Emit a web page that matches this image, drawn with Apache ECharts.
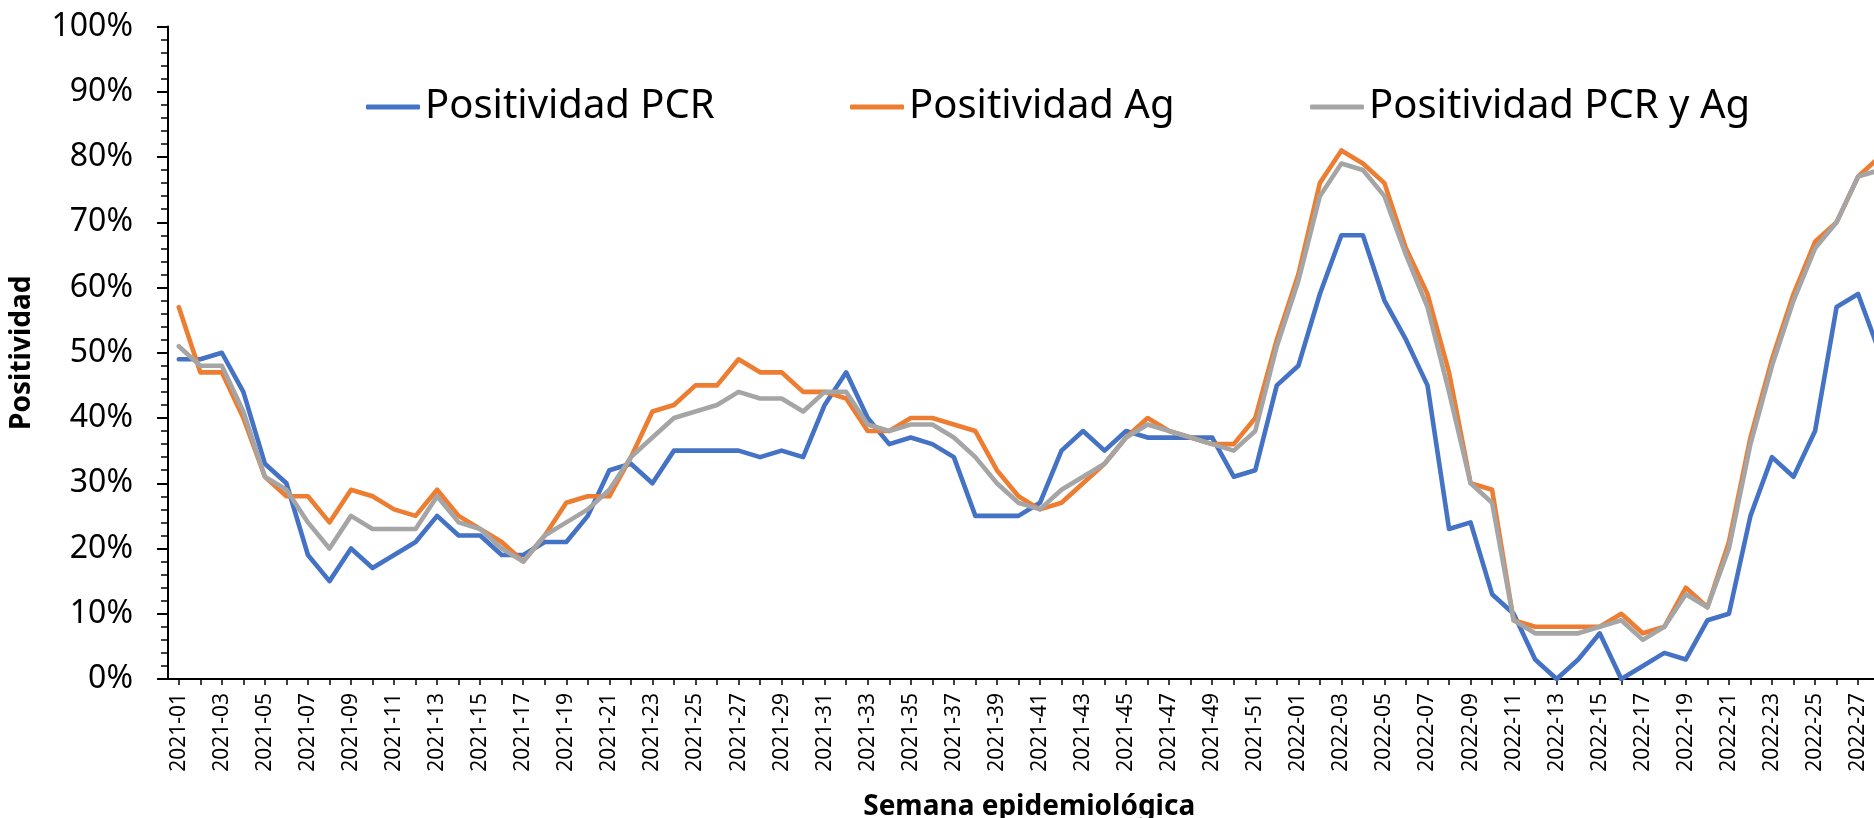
<!DOCTYPE html>
<html>
<head>
<meta charset="utf-8">
<script src="https://cdn.jsdelivr.net/npm/echarts@6/dist/echarts.min.js"></script>
<style>
  html, body { margin: 0; padding: 0; background: #fff; }
  #chart { width: 1874px; height: 818px; }
</style>
</head>
<body>
<div id="chart"></div>
<script>
// semanas epidemiologicas (eje X)
var semanas = [
  "2021-01","2021-02","2021-03","2021-04","2021-05","2021-06","2021-07","2021-08","2021-09","2021-10",
  "2021-11","2021-12","2021-13","2021-14","2021-15","2021-16","2021-17","2021-18","2021-19","2021-20",
  "2021-21","2021-22","2021-23","2021-24","2021-25","2021-26","2021-27","2021-28","2021-29","2021-30",
  "2021-31","2021-32","2021-33","2021-34","2021-35","2021-36","2021-37","2021-38","2021-39","2021-40",
  "2021-41","2021-42","2021-43","2021-44","2021-45","2021-46","2021-47","2021-48","2021-49","2021-50",
  "2021-51","2021-52","2022-01","2022-02","2022-03","2022-04","2022-05","2022-06","2022-07","2022-08",
  "2022-09","2022-10","2022-11","2022-12","2022-13","2022-14","2022-15","2022-16","2022-17","2022-18",
  "2022-19","2022-20","2022-21","2022-22","2022-23","2022-24","2022-25","2022-26","2022-27","2022-28"
];

// positividad (%) por serie
var positividadPCR = [
  49, 49, 50, 44, 33, 30, 19, 15, 20, 17,
  19, 21, 25, 22, 22, 19, 19, 21, 21, 25,
  32, 33, 30, 35, 35, 35, 35, 34, 35, 34,
  42, 47, 40, 36, 37, 36, 34, 25, 25, 25,
  27, 35, 38, 35, 38, 37, 37, 37, 37, 31,
  32, 45, 48, 59, 68, 68, 58, 52, 45, 23,
  24, 13, 10, 3, 0, 3, 7, 0, 2, 4,
  3, 9, 10, 25, 34, 31, 38, 57, 59, 50
];
var positividadAg = [
  57, 47, 47, 40, 31, 28, 28, 24, 29, 28,
  26, 25, 29, 25, 23, 21, 18, 22, 27, 28,
  28, 34, 41, 42, 45, 45, 49, 47, 47, 44,
  44, 43, 38, 38, 40, 40, 39, 38, 32, 28,
  26, 27, 30, 33, 37, 40, 38, 37, 36, 36,
  40, 52, 62, 76, 81, 79, 76, 66, 59, 47,
  30, 29, 9, 8, 8, 8, 8, 10, 7, 8,
  14, 11, 21, 37, 49, 59, 67, 70, 77, 80
];
var positividadAmbas = [
  51, 48, 48, 41, 31, 29, 24, 20, 25, 23,
  23, 23, 28, 24, 23, 20, 18, 22, 24, 26,
  29, 34, 37, 40, 41, 42, 44, 43, 43, 41,
  44, 44, 39, 38, 39, 39, 37, 34, 30, 27,
  26, 29, 31, 33, 37, 39, 38, 37, 36, 35,
  38, 51, 61, 74, 79, 78, 74, 65, 57, 44,
  30, 27, 9, 7, 7, 7, 8, 9, 6, 8,
  13, 11, 20, 36, 48, 58, 66, 70, 77, 78
];
var ticksY = [0, 10, 20, 30, 40, 50, 60, 70, 80, 90, 100];

var nombres = ["Positividad PCR", "Positividad Ag", "Positividad PCR y Ag"];
var colores = ["#4472C4", "#ED7D31", "#A5A5A5"];
var valores = [positividadPCR, positividadAg, positividadAmbas];
var leyendaX = [361, 845, 1305];

var fuente = "Noto Sans";

var chart = echarts.init(document.getElementById("chart"), null, { renderer: "canvas" });

// una leyenda por serie para fijar su posicion
var leyendas = nombres.map(function (n, i) {
  return {
    data: [n],
    left: leyendaX[i],
    top: 82,
    icon: "roundRect",
    itemWidth: 54,
    itemHeight: 5,
    itemGap: 0,
    selectedMode: false,
    textStyle: { fontFamily: fuente, fontSize: 40, color: "#000" }
  };
});

var series = nombres.map(function (n, i) {
  return {
    name: n,
    type: "line",
    data: valores[i],
    symbol: "none",
    color: colores[i],
    lineStyle: { width: 4.6, color: colores[i], cap: "round", join: "round" },
    animation: false
  };
});

var option = {
  backgroundColor: "#fff",
  animation: false,
  legend: leyendas,
  // el grafico original esta recortado a la derecha: la rejilla sale del lienzo
  grid: { left: 168, top: 26.5, width: 1722.4, height: 652.5, containLabel: false, outerBoundsMode: "none" },
  xAxis: {
    type: "category",
    data: semanas,
    boundaryGap: true,
    name: "Semana epidemiológica",
    nameLocation: "middle",
    nameGap: 114,
    nameTextStyle: { fontFamily: fuente, fontSize: 28, fontWeight: "bold", color: "#000" },
    axisLine: { lineStyle: { color: "#000", width: 2 } },
    axisTick: { show: true, alignWithLabel: true, interval: 0, length: 6, lineStyle: { color: "#000", width: 1.5 } },
    axisLabel: { interval: 1, rotate: 90, margin: 14, fontFamily: fuente, fontSize: 21, color: "#000" },
    splitLine: { show: false }
  },
  yAxis: {
    type: "value",
    min: ticksY[0],
    max: ticksY[ticksY.length - 1],
    interval: 10,
    name: "Positividad",
    nameLocation: "middle",
    nameGap: 132,
    nameTextStyle: { fontFamily: fuente, fontSize: 28, fontWeight: "bold", color: "#000" },
    axisLine: { show: true, lineStyle: { color: "#000", width: 2 } },
    axisTick: { show: true, length: 11, lineStyle: { color: "#000", width: 2 } },
    minorTick: { show: true, splitNumber: 5, length: 7, lineStyle: { color: "#000", width: 1.5 } },
    axisLabel: { margin: 35, fontFamily: fuente, fontSize: 32, color: "#000", formatter: "{value}%" },
    splitLine: { show: false },
    minorSplitLine: { show: false }
  },
  series: series
};

chart.setOption(option);
</script>
</body>
</html>
